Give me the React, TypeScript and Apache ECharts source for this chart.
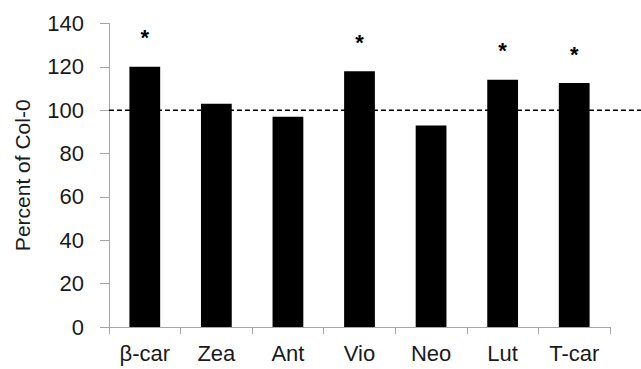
import React, { useEffect, useRef } from "react";
import * as echarts from "echarts";

const categories = ["β-car", "Zea", "Ant", "Vio", "Neo", "Lut", "T-car"];
const values = [120, 103, 97, 118, 93, 114, 112.5];
const significant = [true, false, false, true, false, true, true];
const referenceLevel = 100;
const yTicks = { min: 0, max: 140, interval: 20 };

export default function App() {
  const ref = useRef<HTMLDivElement>(null);
  useEffect(() => {
    if (!ref.current) return;
    const chart = echarts.init(ref.current, null, { renderer: "svg" });
    const font = "'Liberation Sans', Arial, sans-serif";
    chart.setOption({
      animation: false,
      grid: { left: 109, right: 31, top: 23.5, bottom: 42 },
      xAxis: {
        type: "category",
        data: categories,
        axisLine: { lineStyle: { color: "#a6a6a6", width: 1 } },
        axisTick: { show: true, length: 7, lineStyle: { color: "#a6a6a6" } },
        axisLabel: { color: "#1a1a1a", fontSize: 22, fontFamily: font, margin: 15 },
      },
      yAxis: {
        type: "value",
        min: yTicks.min,
        max: yTicks.max,
        interval: yTicks.interval,
        name: "Percent of Col-0",
        nameLocation: "middle",
        nameGap: 76,
        nameTextStyle: { color: "#1a1a1a", fontSize: 21, fontFamily: font },
        axisLine: { show: true, lineStyle: { color: "#a6a6a6", width: 1 } },
        axisTick: { show: true, length: 9, lineStyle: { color: "#a6a6a6" } },
        axisLabel: { color: "#1a1a1a", fontSize: 22, fontFamily: font, margin: 25 },
        splitLine: { show: false },
      },
      series: [
        {
          type: "bar",
          data: values.map((v, i) => ({
            value: v,
            label: {
              show: significant[i],
              position: "top",
              distance: 18,
              formatter: "*",
              color: "#000",
              fontSize: 22,
              fontWeight: "bold",
              fontFamily: font,
            },
          })),
          barWidth: "43%",
          itemStyle: { color: "#000" },
        },
      ],
    });
    const y = chart.convertToPixel({ yAxisIndex: 0 }, referenceLevel) as number;
    chart.setOption({
      graphic: [
        {
          type: "line",
          z: 10,
          shape: { x1: 109, y1: y, x2: 641, y2: y },
          style: { stroke: "#000", lineWidth: 1.5, lineDash: [5, 3] },
        },
      ],
    });
    return () => chart.dispose();
  }, []);
  return (
    <div
      ref={ref}
      style={{ position: "fixed", left: 0, top: 0, width: 641, height: 369, background: "#fff" }}
    />
  );
}
